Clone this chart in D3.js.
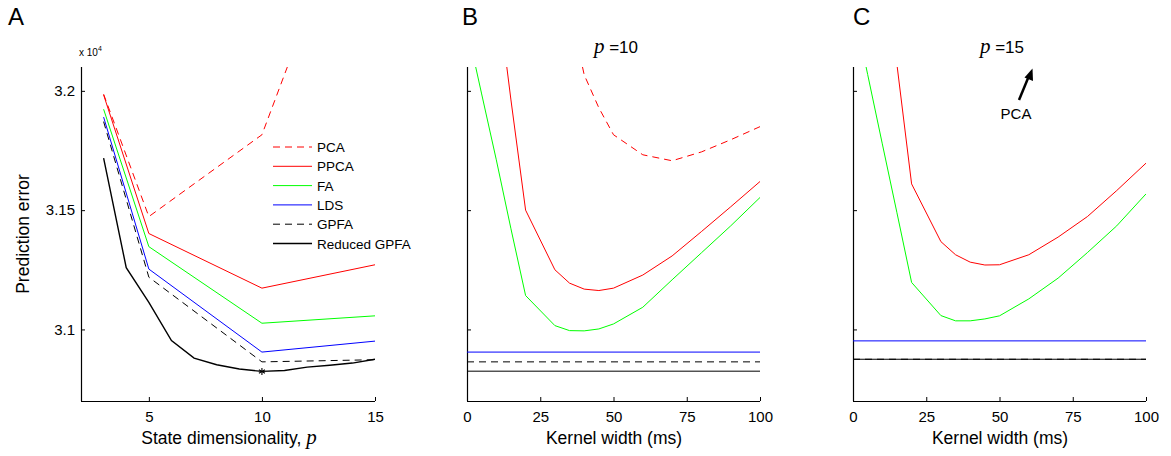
<!DOCTYPE html>
<html lang="en">
<head>
    <meta charset="UTF-8">
    <title>Prediction error</title>
    <style>
        body { margin: 0; background: #fff; }
        svg text { font-family: "Liberation Sans", Arial, Helvetica, sans-serif; fill: #000; }
    </style>
</head>
<body>
<script src="https://d3js.org/d3.v7.min.js"></script>
<script>

  // ---- data (prediction error, x 10^4) ----
  // panel A: error vs state dimensionality p
  var dimsA = [3, 5, 10, 15];
  var pcaA = [3.1986, 3.1473, 3.1816, 3.308];
  var ppcaA = [3.1983, 3.1402, 3.1173, 3.1271];
  var faA = [3.1923, 3.1347, 3.1026, 3.1057];
  var ldsA = [3.1890, 3.1253, 3.0905, 3.0951];
  var gpfaA = [3.1871, 3.1219, 3.0864, 3.0873];
  var dimsReduced = [3, 4, 5, 6, 7, 8, 9, 10, 11, 12, 13, 14, 15];
  var reducedA = [3.1718, 3.1259, 3.1113, 3.0953, 3.0880, 3.0852, 3.0834, 3.0824, 3.0828, 3.0842, 3.0850, 3.0859, 3.0875];
  var bestDim = 10;

  // panels B, C: error vs kernel width (ms)
  var kernelWidths = [0, 5, 10, 15, 20, 30, 35, 40, 45, 50, 60, 70, 80, 90, 100];
  var pcaB = [3.70, 3.60, 3.50, 3.42, 3.35, 3.27, 3.235, 3.2067, 3.1929, 3.1816, 3.1732, 3.1707, 3.1744, 3.1795, 3.1850];
  var ppcaB = [3.42, 3.33, 3.245, 3.1962, 3.1500, 3.1250, 3.1194, 3.1169, 3.1163, 3.1173, 3.1228, 3.1308, 3.1410, 3.1514, 3.1620];
  var faB = [3.2265, 3.1987, 3.1711, 3.1422, 3.1142, 3.1016, 3.0995, 3.0994, 3.1002, 3.1023, 3.1093, 3.1208, 3.1321, 3.1434, 3.1553];
  var ldsB = 3.0905, gpfaB = 3.0864, reducedB = 3.0825;
  var ppcaC = [3.50, 3.40, 3.30, 3.211, 3.1610, 3.1368, 3.1313, 3.1282, 3.1270, 3.1271, 3.1313, 3.1387, 3.1473, 3.1582, 3.1697];
  var faC = [3.236, 3.2069, 3.1778, 3.1489, 3.1197, 3.1058, 3.1036, 3.1036, 3.1044, 3.1057, 3.1128, 3.1215, 3.1322, 3.1434, 3.1568];
  var ldsC = 3.0952, gpfaC = 3.0875, reducedC = 3.0875;

  var yTicks = [3.1, 3.15, 3.2];
  var dimTicks = [5, 10, 15];
  var kernelTicks = [0, 25, 50, 75, 100];
  var legendNames = ["PCA", "PPCA", "FA", "LDS", "GPFA", "Reduced GPFA"];

  // ---- layout ----
  var W = 1171, H = 456;
  var plotTop = 67, plotBottom = 401;
  var red = "#ff0000", green = "#00ff00", blue = "#0000ff", black = "#000";

  var svg = d3.select("body").append("svg")
          .attr("width", W)
          .attr("height", H);

  var y = d3.scaleLinear().domain([3.07, 3.21]).range([plotBottom, plotTop]);

  function makePanel(id, left, right, xDomain, xTickVals, showYLabels) {
    var x = d3.scaleLinear().domain(xDomain).range([left, right]);
    var g = svg.append("g");

    svg.append("clipPath").attr("id", "clip" + id)
            .append("rect")
            .attr("x", left).attr("y", plotTop)
            .attr("width", right - left).attr("height", plotBottom - plotTop);

    var xAxis = d3.axisBottom(x).tickValues(xTickVals).tickSizeInner(-4).tickSizeOuter(0).tickPadding(10);
    var gx = g.append("g").attr("transform", "translate(0," + plotBottom + ")").call(xAxis);
    var yAxis = d3.axisLeft(y).tickValues(yTicks).tickSizeInner(-4).tickSizeOuter(0).tickPadding(6)
            .tickFormat(showYLabels ? d3.format("") : "");
    var gy = g.append("g").attr("transform", "translate(" + left + ",0)").call(yAxis);
    gy.select(".domain").attr("d", "M0.5," + plotTop + "V" + plotBottom);
    gx.select(".domain").attr("d", "M" + left + ",0.5H" + right);
    [gx, gy].forEach(function(a) {
      a.selectAll(".domain").attr("stroke", "#000").attr("stroke-width", 1.2);
      a.selectAll(".tick line").attr("stroke", "#000");
      a.selectAll(".tick text").style("font-size", "15px").attr("font-family", null);
    });

    var plot = g.append("g").attr("clip-path", "url(#clip" + id + ")");
    return { x: x, g: g, plot: plot };
  }

  function drawLine(panel, xs, ys, color, dash, width) {
    var line = d3.line().x(function(d, i) { return panel.x(xs[i]); }).y(function(d) { return y(d); });
    panel.plot.append("path")
            .attr("d", line(ys))
            .attr("fill", "none")
            .attr("stroke", color)
            .attr("stroke-width", width || 1)
            .attr("stroke-dasharray", dash ? "7,5" : null);
  }

  function drawFlat(panel, v, color, dash, width) {
    var xs = panel.x.domain();
    drawLine(panel, xs, [v, v], color, dash, width);
  }

  // ---- panel A ----
  var pA = makePanel("A", 81, 375, [2, 15], dimTicks, true);
  drawLine(pA, dimsA, pcaA, red, true);
  drawLine(pA, dimsA, ppcaA, red, false);
  drawLine(pA, dimsA, faA, green, false);
  drawLine(pA, dimsA, ldsA, blue, false);
  drawLine(pA, dimsA, gpfaA, black, true);
  drawLine(pA, dimsReduced, reducedA, black, false, 1.4);

  // best dimensionality marker
  var bx = pA.x(bestDim), by = y(reducedA[dimsReduced.indexOf(bestDim)]);
  var star = pA.g.append("g").attr("transform", "translate(" + bx + "," + by + ")")
          .attr("stroke", "#000").attr("stroke-width", 1.1);
  [0, 60, 120].forEach(function(a) {
    var r = a * Math.PI / 180;
    star.append("line")
            .attr("x1", -3.5 * Math.sin(r)).attr("y1", -3.5 * Math.cos(r))
            .attr("x2", 3.5 * Math.sin(r)).attr("y2", 3.5 * Math.cos(r));
  });

  // x 10^4 multiplier
  var mult = svg.append("text").attr("x", 79).attr("y", 56).style("font-size", "10px");
  mult.append("tspan").text("x 10");
  mult.append("tspan").attr("dy", -5).style("font-size", "7px").text("4");

  // legend
  var legend = svg.append("g");
  var legendStyle = [[red, true], [red, false], [green, false], [blue, false], [black, true], [black, false]];
  legendNames.forEach(function(name, i) {
    var ly = 147 + i * 19.3;
    legend.append("line")
            .attr("x1", 273).attr("x2", 312).attr("y1", ly).attr("y2", ly)
            .attr("stroke", legendStyle[i][0])
            .attr("stroke-width", i === 5 ? 1.4 : 1)
            .attr("stroke-dasharray", legendStyle[i][1] ? "7,5" : null);
    legend.append("text")
            .attr("x", 317).attr("y", ly + 5)
            .style("font-size", "13.5px")
            .text(name);
  });

  svg.append("text")
          .attr("transform", "translate(29,234) rotate(-90)")
          .attr("text-anchor", "middle")
          .style("font-size", "17.5px")
          .text("Prediction error");

  var xlabA = svg.append("text").attr("x", 229).attr("y", 444).attr("text-anchor", "middle").style("font-size", "17.5px");
  xlabA.append("tspan").text("State dimensionality, ");
  xlabA.append("tspan").style("font-family", "'Liberation Serif', 'DejaVu Serif', serif").style("font-style", "italic").style("font-size", "21px").text("p");

  // ---- panel B ----
  var pB = makePanel("B", 467, 760, [0, 100], kernelTicks, false);
  drawLine(pB, kernelWidths, pcaB, red, true);
  drawLine(pB, kernelWidths, ppcaB, red, false);
  drawLine(pB, kernelWidths, faB, green, false);
  drawFlat(pB, ldsB, blue, false);
  drawFlat(pB, gpfaB, black, true);
  drawFlat(pB, reducedB, black, false);

  // ---- panel C ----
  var pC = makePanel("C", 853, 1146, [0, 100], kernelTicks, false);
  drawLine(pC, kernelWidths, ppcaC, red, false);
  drawLine(pC, kernelWidths, faC, green, false);
  drawFlat(pC, ldsC, blue, false);
  drawFlat(pC, gpfaC, black, true);
  drawFlat(pC, reducedC, black, false);

  // PCA is off the top in C
  svg.append("line")
          .attr("x1", 1019).attr("y1", 100).attr("x2", 1028.5).attr("y2", 77)
          .attr("stroke", "#000").attr("stroke-width", 2.5);
  svg.append("path")
          .attr("d", "M1032.5,68.5 L1033,81 L1024.5,77.5 Z")
          .attr("fill", "#000");
  svg.append("text").attr("x", 1016).attr("y", 119).attr("text-anchor", "middle")
          .style("font-size", "15px").text("PCA");

  [[614, "Kernel width (ms)"], [1000, "Kernel width (ms)"]].forEach(function(d) {
    svg.append("text").attr("x", d[0]).attr("y", 444).attr("text-anchor", "middle")
            .style("font-size", "17.5px").text(d[1]);
  });

  // titles
  [[616, "10"], [1002, "15"]].forEach(function(d) {
    var t = svg.append("text").attr("x", d[0]).attr("y", 53).attr("text-anchor", "middle").style("font-size", "17px");
    t.append("tspan").style("font-family", "'Liberation Serif', 'DejaVu Serif', serif").style("font-style", "italic").style("font-size", "21px").text("p");
    t.append("tspan").text(" =" + d[1]);
  });

  // panel letters
  [[8, "A"], [462, "B"], [853, "C"]].forEach(function(d) {
    svg.append("text").attr("x", d[0]).attr("y", 25).style("font-size", "24px").text(d[1]);
  });

</script>
</body>
</html>
